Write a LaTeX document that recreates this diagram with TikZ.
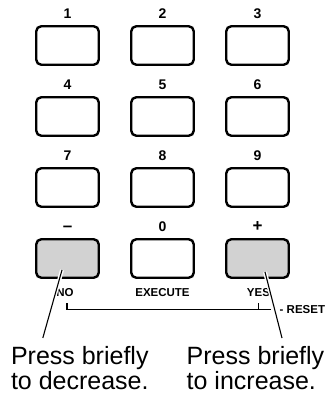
\documentclass[tikz,border=0pt]{standalone}
\usepackage{fontspec}
\setmainfont{Liberation Sans}
\usetikzlibrary{calc}
\definecolor{keygray}{RGB}{210,210,210}
\newcommand{\bigsym}[1]{{\fontsize{17}{17}\selectfont #1}}

\begin{document}
\begin{tikzpicture}[x=1pt, y=-1pt,
	key/.style={draw, line width=2.4pt, rounded corners=5pt,
		minimum width=62.5pt, minimum height=38.5pt, inner sep=0pt},
	keylabel/.style={font=\fontsize{14}{14}\selectfont\bfseries, inner sep=0pt},
	small/.style={font=\fontsize{11.5}{12}\selectfont\bfseries, inner sep=0pt},
	note/.style={font=\fontsize{25}{23}\selectfont, align=left, inner sep=0pt, anchor=north west},
	pointer/.style={line width=1.1pt, preaction={draw=white, line width=4pt}}]
	\useasboundingbox (0,0) rectangle (333,396);
	
	% keypad, three keys a row
	\foreach \lbl/\fc [count=\i from 0] in {1/white, 2/white, 3/white,
		4/white, 5/white, 6/white, 7/white, 8/white, 9/white,
		\bigsym{--}/keygray, 0/white, \bigsym{+}/keygray}
	{
		\pgfmathsetmacro{\cx}{67.5+95*mod(\i,3)}
		\pgfmathsetmacro{\cy}{45.5+71*int(\i/3)}
		\node[key, fill=\fc, label={[keylabel, label distance=6.5pt]above:\lbl}] (key\i) at (\cx,\cy) {};
	}
	
	% names under the bottom row
	\node[small, anchor=base] (nolbl) at ($(key9.south)+(-2.5,18)$) {NO};
	\node[small, anchor=base] (exelbl) at ($(key10.south)+(0,18)$) {EXECUTE};
	\node[small, anchor=base] (yeslbl) at ($(key11.south)+(1,18)$) {YES};
	
	% NO + YES = RESET
	\node[small, anchor=base west] (reset) at (279.5,313) {- RESET};
	\coordinate (brkno) at ($(nolbl.south)+(2,6)$);
	\coordinate (brkyes) at ($(yeslbl.south)+(0,6)$);
	\draw[line width=1.1pt] (brkno) -- ++(0,6) -- ($(brkyes)+(12,6)$);
	\draw[line width=1.1pt] (brkyes) -- ++(0,6);
	
	\node[note] (decnote) at (10.8,346.5) {Press briefly\\to decrease.};
	\node[note] (incnote) at (186.5,346.5) {Press briefly\\to increase.};
	
	\draw[pointer] ($(key9.center)+(-5.5,11.5)$) -- ($(decnote.north west)+(32,-8.5)$);
	\draw[pointer] ($(key11.center)+(7.5,13.5)$) -- ($(incnote.north west)+(95.5,-8.5)$);
	
\end{tikzpicture}
\end{document}
